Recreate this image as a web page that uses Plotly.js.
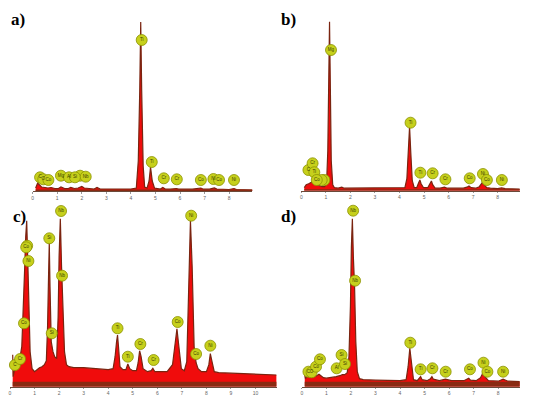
<!DOCTYPE html>
<html>
<head>
<meta charset="utf-8">
<script src="https://cdn.plot.ly/plotly-3.0.1.min.js"></script>
<style>body{margin:0;background:#fff}</style>
</head>
<body>
<div id="plot" style="width:550px;height:405px"></div>
<script>
// EDS spectra, energy in keV, counts in arbitrary units
// peak names '' = marker hidden behind its neighbour

// a)
const energyA = [0.12,0.2,0.28,0.36,0.5,0.62,0.75,0.9,1.05,1.15,1.3,1.45,1.55,1.7,1.85,2.0,2.1,2.25,2.5,2.62,2.75,3.0,3.5,4.0,4.22,4.3,4.36,4.4,4.44,4.5,4.56,4.66,4.74,4.8,4.87,4.96,5.2,5.3,5.4,5.6,5.85,5.95,6.1,6.5,6.85,6.95,7.2,7.4,7.5,7.7,8.0,8.2,8.3,8.6,8.95];
const countsA = [3,8,6,4,3.5,3,3.5,2.5,2.5,4,2.5,2.5,3.5,2.5,3,4.5,3,2.5,2,3.5,2,2,1.8,2,3,30,100,169,100,25,4,3,10,24,10,3,2,3.5,2,1.8,2.5,1.8,1.8,1.8,3,1.8,1.8,3,2,1.5,1.5,2.5,1.5,1.2,1];
const peakEnergyA = [0.3,0.43,0.64,1.15,1.48,1.93,1.72,2.16,4.44,4.85,5.34,5.87,6.85,7.36,7.59,8.2];
const peakCountsA = [13.7,11.7,11,15.3,13.7,15.3,13.7,14.3,151,29,12.7,11.7,11,12,11,11];
const peakNamesA = ['C','O','Co','Mg','Al','','Si','Nb','Ti','Ti','Cr','Cr','Co','Ni','Co','Ni'];

// b)
const energyB = [0.12,0.2,0.3,0.45,0.55,0.65,0.75,0.85,0.95,1.03,1.08,1.12,1.15,1.18,1.22,1.28,1.35,1.5,1.65,1.75,1.9,2.2,2.5,2.8,3.2,3.6,4.0,4.22,4.3,4.36,4.41,4.46,4.52,4.6,4.7,4.78,4.83,4.88,4.98,5.15,5.25,5.3,5.35,5.45,5.65,5.83,5.95,6.2,6.6,6.75,6.83,6.92,7.1,7.25,7.37,7.45,7.55,7.7,8.0,8.16,8.3,8.6,8.9];
const countsB = [3,6,7,9,7,6,5,4,4,8,40,120,169,110,30,6,3,2.5,3.5,2.5,2.5,3,2.5,2.5,2.5,2.5,2.5,3,12,40,64,38,10,3,3,8,10.7,7,3,3,7,9.7,6,2.5,2.5,3.5,2.5,2.5,2.5,3.5,4.7,3,2.5,4,8,6,3,2.5,2,2.8,2,1.8,1.5];
const peakEnergyB = [0.29,0.46,0.53,0.94,0.83,0.63,1.21,4.45,4.85,5.35,5.87,6.86,7.4,7.56,8.17];
const peakCountsB = [20.7,27.4,18.4,10.7,10.7,10.7,140.7,68,18,17.4,11.4,12.4,16.7,10.7,10.7];
const peakNamesB = ['C','Cr','Ti','','','Co','Mg','Ti','Ti','Cr','Cr','Co','Ni','Co','Ni'];

// c)
const energyC = [0.11,0.13,0.16,0.22,0.3,0.4,0.48,0.55,0.6,0.64,0.68,0.72,0.76,0.82,0.9,1.0,1.1,1.2,1.3,1.4,1.48,1.53,1.57,1.6,1.63,1.68,1.75,1.82,1.9,1.96,2.0,2.05,2.1,2.15,2.22,2.3,2.4,2.6,3.0,3.5,4.0,4.2,4.28,4.34,4.38,4.42,4.48,4.6,4.72,4.8,4.88,5.0,5.15,5.22,5.28,5.34,5.42,5.6,5.75,5.82,5.9,6.1,6.4,6.62,6.72,6.8,6.88,6.98,7.1,7.2,7.27,7.35,7.42,7.5,7.58,7.66,7.8,8.0,8.1,8.16,8.22,8.32,8.5,9.0,9.5,10.0,10.5,10.86];
const countsC = [32,10,14,20,22,28,40,80,120,150,166,130,80,35,18,15,17,19,20,22,26,60,110,144,100,45,35,30,28,70,130,168,120,75,35,22,20,19,19,18,17,18,30,45,51.7,40,20,17,17,22.7,18,16,16,24,36,30,18,15,16,18.4,15,15,15,22,45,58,40,18,16,25,90,166,120,40,24,18,15,15,22,33,26,15,14,13.5,13,12.5,12,11.7];
const peakEnergyC = [0.2,0.41,0.57,0.7,0.66,0.75,1.6,1.7,2.08,2.12,4.38,4.8,5.31,5.85,6.83,7.38,7.58,8.16];
const peakCountsC = [21.7,27.7,63.4,141,139.4,125.7,148.4,53.4,175.7,111,58.4,30,42.7,26.7,64.7,171,32.7,41];
const peakNamesC = ['C','Cr','Co','','Co','Ni','Si','Si','Nb','Nb','Ti','Ti','Cr','Cr','Co','Ni','Co','Ni'];

// d)
const energyD = [0.12,0.15,0.2,0.3,0.4,0.5,0.6,0.7,0.78,0.88,1.0,1.2,1.4,1.55,1.65,1.75,1.85,1.92,1.98,2.02,2.06,2.1,2.15,2.2,2.26,2.35,2.5,3.0,3.5,4.0,4.25,4.33,4.4,4.47,4.55,4.7,4.79,4.84,4.9,5.1,5.24,5.3,5.36,5.6,5.85,6.1,6.6,6.74,6.8,6.87,7.1,7.28,7.38,7.46,7.6,8.0,8.2,8.4,8.88];
const countsD = [12,8,10,12,11,10,11,12.4,11,9,8.5,9,10,11,12,12,14,30,80,140,168,130,100,45,15,8,7,6.5,6,6,7,20,38.4,20,7,6,8,10,7,6,8,10,7.5,6,7.5,6,6,7.5,8.4,6.5,6,9,14,10,6,5.5,7.5,5.5,5];
const peakEnergyD = [0.27,0.4,0.58,0.74,1.42,1.62,1.76,2.09,2.17,4.42,4.84,5.32,5.86,6.85,7.4,7.56,8.2];
const peakCountsD = [15,14.4,20,27.4,18.4,31.7,22.7,176,106,44,17.4,18.4,15,17.4,24,15,15];
const peakNamesD = ['C','O','Co','Co','Al','Si','Si','Nb','Nb','Ti','Ti','Cr','Cr','Co','Ni','Co','Ni'];

const panelTags = ['a)', 'b)', 'c)', 'd)'];

// page geometry (pixels), 1 count unit = 1 px
const W = 550, HT = 405, PX_KEV = 24.55, H = 190;
const panels = [
  {tag: panelTags[0], e: energyA, c: countsA, pe: peakEnergyA, pc: peakCountsA, pn: peakNamesA, zero: 32.7, axis: 191, max: 8.95, floor: 1.5, tx: 9, ty: 19},
  {tag: panelTags[1], e: energyB, c: countsB, pe: peakEnergyB, pc: peakCountsB, pn: peakNamesB, zero: 301.3, axis: 190.7, max: 8.9, floor: 1.5, tx: 279, ty: 19},
  {tag: panelTags[2], e: energyC, c: countsC, pe: peakEnergyC, pc: peakCountsC, pn: peakNamesC, zero: 10, axis: 386.7, max: 10.86, floor: 5, tx: 11, ty: 216},
  {tag: panelTags[3], e: energyD, c: countsD, pe: peakEnergyD, pc: peakCountsD, pn: peakNamesD, zero: 301.8, axis: 386.7, max: 8.88, floor: 5, tx: 279, ty: 216}
];

var data = [];
var layout = {
  width: W, height: HT,
  margin: {l: 0, r: 0, t: 0, b: 0},
  paper_bgcolor: '#fff', plot_bgcolor: 'rgba(0,0,0,0)',
  showlegend: false,
  annotations: []
};

panels.forEach(function (p, i) {
  let n = i === 0 ? '' : String(i + 1);
  let xa = 'x' + n, ya = 'y' + n;

  data.push({
    x: p.e, y: p.c, xaxis: xa, yaxis: ya,
    mode: 'lines', fill: 'tozeroy', fillcolor: '#f00c0c',
    line: {color: '#7a2410', width: 1.2}, hoverinfo: 'skip'
  });
  data.push({
    x: [p.e[0], p.e[p.e.length - 1]], y: [p.floor, p.floor], xaxis: xa, yaxis: ya,
    mode: 'lines', fill: 'tozeroy', fillcolor: '#8a2a12',
    line: {color: '#8a2a12', width: 0}, hoverinfo: 'skip'
  });
  data.push({
    x: p.pe, y: p.pc, text: p.pn, xaxis: xa, yaxis: ya,
    mode: 'markers+text', textposition: 'middle center', cliponaxis: false,
    marker: {size: 11, color: '#c6d01c', line: {color: '#8c9200', width: 0.8}},
    textfont: {size: 4.5, color: '#3c3c00', family: 'Arial'}, hoverinfo: 'skip'
  });

  layout['xaxis' + n] = {
    domain: [p.zero / W, (p.zero + p.max * PX_KEV) / W],
    range: [0, p.max], anchor: ya,
    showgrid: false, zeroline: false, showline: true,
    linecolor: '#6b4a3a', linewidth: 1,
    tick0: 0, dtick: 1, ticks: 'outside', ticklen: 1.5, tickcolor: '#999',
    tickfont: {size: 5, color: '#666', family: 'Arial'}
  };
  layout['yaxis' + n] = {
    domain: [1 - p.axis / HT, 1 - (p.axis - H) / HT],
    range: [0, H], anchor: xa, visible: false
  };
  layout.annotations.push({
    text: '<b>' + p.tag + '</b>', xref: 'paper', yref: 'paper',
    x: p.tx / W, y: 1 - p.ty / HT, xanchor: 'left', yanchor: 'middle',
    showarrow: false, font: {family: 'Liberation Serif', size: 17, color: '#000'}
  });
});

Plotly.newPlot('plot', data, layout, {staticPlot: true});
</script>
</body>
</html>
